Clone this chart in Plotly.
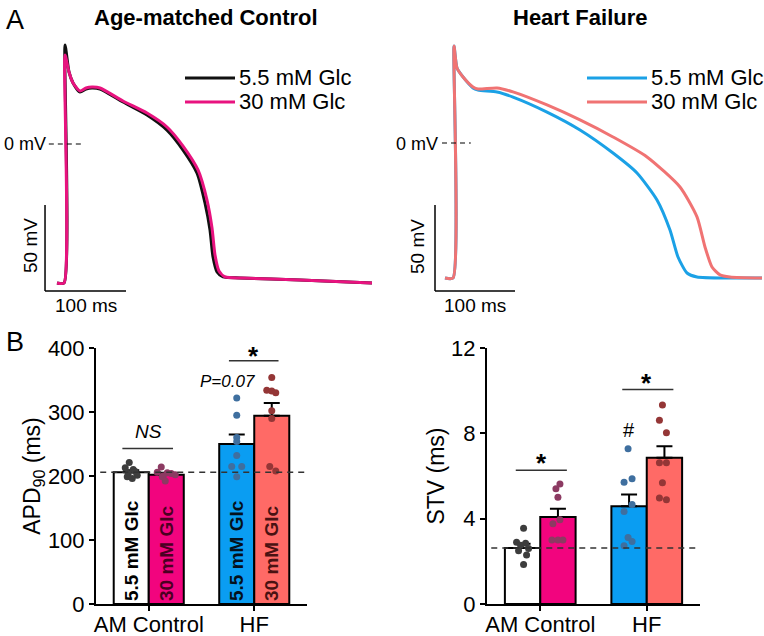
import plotly.graph_objects as go

W, H = 764, 636
FONT = "Liberation Sans, Arial, sans-serif"

# ---------------- Panel A : action potentials (t in ms from upstroke, V in mV)
am_55_t = [-9.9, -1.2, 0, 4.9, 9.9, 18.5, 25.9, 33.3, 43.2, 71.6, 101.2, 125.9, 145.7, 163.0, 172.8, 179.0, 182.7, 187.7, 195.1, 216.0, 290.1, 379.0]
am_55_v = [-80.8, -80.8, 57.6, 41.9, 35.5, 30.2, 32.0, 32.6, 32.0, 24.4, 16.9, 8.1, -3.5, -16.9, -34.3, -50.0, -65.7, -74.4, -77.3, -77.9, -79.1, -80.8]
am_30_t = [-9.9, -1.2, 0, 4.9, 9.9, 18.5, 25.9, 33.3, 43.2, 71.6, 101.2, 125.9, 145.7, 164.2, 175.3, 181.5, 185.2, 190.1, 197.5, 218.5, 290.1, 379.0]
am_30_v = [-80.8, -80.8, 51.7, 41.9, 35.5, 30.8, 32.6, 33.1, 32.6, 25.0, 18.0, 9.9, -1.2, -15.1, -32.6, -48.8, -64.5, -73.8, -77.3, -77.9, -79.1, -80.8]
hf_55_t = [-11.25, -1.25, 0, 3.75, 11.25, 23.75, 30, 53.75, 73.75, 116.25, 157.5, 198.75, 228.75, 253.75, 270, 280, 291.25, 303.75, 345, 385]
hf_55_v = [-78.5, -78.5, 56.4, 43.6, 38.4, 32.0, 30.8, 29.7, 26.7, 18.0, 7.6, -5.8, -17.4, -33.1, -50.6, -66.3, -75.6, -77.9, -78.5, -78.5]
hf_30_t = [-11.25, -1.25, 0, 3.75, 11.25, 23.75, 30, 53.75, 73.75, 116.25, 157.5, 198.75, 241.25, 282.5, 303.75, 313.75, 322.5, 332.5, 345, 385]
hf_30_v = [-78.5, -78.5, 56.4, 43.6, 38.4, 32.6, 31.4, 32.0, 29.7, 22.1, 13.4, 3.5, -8.1, -25.6, -43.0, -60.5, -72.1, -76.7, -77.9, -78.5]

scale_ms = 100
scale_mv = 50
panel_titles = ["Age-matched Control", "Heart Failure"]

# ---------------- Panel B : APD90 and STV
groups = ["AM Control", "HF"]
conditions = ["5.5 mM Glc", "30 mM Glc"]

apd_mean_55 = [206, 250]
apd_sem_55 = [3, 15]
apd_mean_30 = [202, 294]
apd_sem_30 = [3, 20]
apd_pts_am_55 = [221, 213, 210, 207, 204, 201, 199, 196]
apd_pts_am_30 = [214, 206, 205, 204, 202, 200, 199, 192]
apd_pts_hf_55 = [322, 295, 260, 254, 232, 215, 215, 199]
apd_pts_hf_30 = [354, 334, 333, 330, 302, 290, 215, 208]

stv_mean_55 = [2.62, 4.58]
stv_sem_55 = [0.2, 0.55]
stv_mean_30 = [4.08, 6.86]
stv_sem_30 = [0.38, 0.53]
stv_pts_am_55 = [3.55, 2.9, 2.85, 2.75, 2.6, 2.5, 2.3, 1.85]
stv_pts_am_30 = [5.63, 5.4, 5.0, 3.95, 3.76, 3.0, 3.0, 3.0]
stv_pts_hf_55 = [7.28, 5.71, 5.87, 4.66, 4.34, 3.12, 2.93, 2.73]
stv_pts_hf_30 = [9.33, 8.61, 8.03, 6.62, 6.62, 5.68, 4.97, 4.89]

# ---------------- styles
c_am55_line, c_am30_line = "#111111", "#E8137F"
c_hf55_line, c_hf30_line = "#1BA1E6", "#F07373"
bar_col_55 = ["#FFFFFF", "#0A9DF2"]
bar_col_30 = ["#F2047E", "#FF6A66"]
txt_col_55 = ["#000000", "#05111c"]
txt_col_30 = ["#4a0022", "#4a1212"]
dot_col = {"am55": "#3d3d3d", "am30": "#8c3a62", "hf55": "#3f6f9f", "hf30": "#943636"}
# horizontal jitter of dots (pixels)
jit_apd = {"am55": [-2, -6, 2, 4, -3, 6, -4, 1], "am30": [-5, -9, 1, 5, 9, -3, -4, -1],
           "hf55": [0, 0, 0, 0, 0, -5, 5, 0], "hf30": [0, -5, 0, 4, 0, 0, -2, 4]}
jit_stv = {"am55": [1, -6, 3, -2, 6, -4, 4, 1], "am30": [2, -2, 0, 2, -5, -6, 0, 5],
           "hf55": [-1, -5, 3, 3, -5, -1, 3, -5], "hf30": [-2, -5, 2, -5, 2, -2, -5, 2]}
BW = 0.332
OFF = BW / 2


def fx(x):
    return x / W


def fy(y):
    return 1 - y / H


fig = go.Figure()

# AP traces
for t, v, c, ax in [(am_55_t, am_55_v, c_am55_line, ("x", "y")), (am_30_t, am_30_v, c_am30_line, ("x", "y")),
                    (hf_55_t, hf_55_v, c_hf55_line, ("x2", "y2")), (hf_30_t, hf_30_v, c_hf30_line, ("x2", "y2"))]:
    fig.add_trace(go.Scatter(x=t, y=v, mode="lines", line=dict(color=c, width=3, shape="spline", smoothing=0.6),
                             xaxis=ax[0], yaxis=ax[1], showlegend=False, hoverinfo="skip"))


def add_bars(xa, ya, m55, s55, m30, s30, with_text):
    xs55 = [i - OFF for i in range(len(groups))]
    xs30 = [i + OFF for i in range(len(groups))]
    for xs, m, s, cols, lab, tcol in [(xs55, m55, s55, bar_col_55, conditions[0], txt_col_55),
                                      (xs30, m30, s30, bar_col_30, conditions[1], txt_col_30)]:
        kw = {}
        if with_text:
            kw = dict(text=[lab] * len(m), textposition="inside", insidetextanchor="start", textangle=-90,
                      constraintext="none",
                      insidetextfont=dict(family=FONT, size=19, color=tcol, weight="bold"))
        fig.add_trace(go.Bar(
            x=xs, y=m, width=BW, marker=dict(color=cols, line=dict(color="black", width=2)),
            error_y=dict(type="data", array=s, arrayminus=[0] * len(s), symmetric=False,
                         color="black", thickness=2, width=8),
            xaxis=xa, yaxis=ya, showlegend=False, hoverinfo="skip", **kw))


def add_dots(xa, ya, pts, jit, key, xc, catpx):
    fig.add_trace(go.Scatter(
        x=[xc + j / catpx for j in jit[key]], y=pts, mode="markers",
        marker=dict(size=7, color=dot_col[key]), xaxis=xa, yaxis=ya,
        showlegend=False, hoverinfo="skip", cliponaxis=False))


add_bars("x3", "y3", apd_mean_55, apd_sem_55, apd_mean_30, apd_sem_30, True)
add_bars("x4", "y4", stv_mean_55, stv_sem_55, stv_mean_30, stv_sem_30, False)

cat_apd = (307 - 96) / 2
cat_stv = (700 - 487) / 2
for pts, key, xc in [(apd_pts_am_55, "am55", -OFF), (apd_pts_am_30, "am30", OFF),
                     (apd_pts_hf_55, "hf55", 1 - OFF), (apd_pts_hf_30, "hf30", 1 + OFF)]:
    add_dots("x3", "y3", pts, jit_apd, key, xc, cat_apd)
for pts, key, xc in [(stv_pts_am_55, "am55", -OFF), (stv_pts_am_30, "am30", OFF),
                     (stv_pts_hf_55, "hf55", 1 - OFF), (stv_pts_hf_30, "hf30", 1 + OFF)]:
    add_dots("x4", "y4", pts, jit_stv, key, xc, cat_stv)

shapes = []
ann = []

# zero-mV lines and scale bars
for xr, yr, z0, z1, sx, sy in [("x", "y", -20, 21, -24.7, -85.5), ("x2", "y2", -15, 21, -23.75, -86)]:
    shapes.append(dict(type="line", xref=xr, yref=yr, x0=z0, x1=z1, y0=0, y1=0,
                       line=dict(color="black", width=1.2, dash="5px,4px")))
    shapes.append(dict(type="line", xref=xr, yref=yr, x0=sx, x1=sx, y0=sy, y1=sy + scale_mv,
                       line=dict(color="black", width=1.5)))
    shapes.append(dict(type="line", xref=xr, yref=yr, x0=sx, x1=sx + scale_ms, y0=sy, y1=sy,
                       line=dict(color="black", width=1.5)))

# legends of panel A
for x0, x1, tx, cols in [(185, 235, 237, [c_am55_line, c_am30_line]), (587, 647, 649, [c_hf55_line, c_hf30_line])]:
    for k, yy in enumerate([78, 102]):
        shapes.append(dict(type="line", xref="paper", yref="paper", x0=fx(x0), x1=fx(x1), y0=fy(yy), y1=fy(yy),
                           line=dict(color=cols[k], width=3)))
        ann.append(dict(x=fx(tx), y=fy(yy), xref="paper", yref="paper", text=conditions[k], showarrow=False,
                        xanchor="left", yanchor="middle", font=dict(size=22)))

# reference dashed lines
shapes.append(dict(type="line", xref="x3 domain", yref="y3", x0=0.02, x1=1, y0=apd_mean_55[0], y1=apd_mean_55[0],
                   line=dict(color="#333333", width=1.5, dash="6px,5px")))
shapes.append(dict(type="line", xref="x4 domain", yref="y4", x0=0.02, x1=1, y0=stv_mean_55[0], y1=stv_mean_55[0],
                   line=dict(color="#333333", width=1.5, dash="6px,5px")))

# significance lines
for xr, yr, a, b, yy in [("x3", "y3", -0.25, 0.23, 243), ("x3", "y3", 0.76, 1.23, 380),
                         ("x4", "y4", -0.23, 0.25, 6.27), ("x4", "y4", 0.77, 1.25, 10.05)]:
    shapes.append(dict(type="line", xref=xr, yref=yr, x0=a, x1=b, y0=yy, y1=yy,
                       line=dict(color="#333333", width=1.5)))

ann += [
    dict(x=fx(4), y=fy(20), text="A", font=dict(size=27)),
    dict(x=fx(4), y=fy(342), text="B", font=dict(size=27)),
]
for a in ann[-2:]:
    a.update(xref="paper", yref="paper", showarrow=False, xanchor="left", yanchor="middle")

for txt, x in zip(panel_titles, [206, 580]):
    ann.append(dict(x=fx(x), y=fy(17), xref="paper", yref="paper", text="<b>%s</b>" % txt, showarrow=False,
                    font=dict(size=22), xanchor="center", yanchor="middle"))

for zx, sbx, sby, smx in [(48, 30, 246, 86), (440, 418, 247, 475)]:
    ann.append(dict(x=fx(zx), y=fy(144), xref="paper", yref="paper", text="0 mV", showarrow=False,
                    xanchor="right", yanchor="middle", font=dict(size=18)))
    ann.append(dict(x=fx(sbx), y=fy(sby), xref="paper", yref="paper", text="%d mV" % scale_mv, showarrow=False,
                    textangle=-90, xanchor="center", yanchor="middle", font=dict(size=19)))
    ann.append(dict(x=fx(smx), y=fy(305), xref="paper", yref="paper", text="%d ms" % scale_ms, showarrow=False,
                    xanchor="center", yanchor="middle", font=dict(size=19)))

# significance labels
ann += [
    dict(x=0, y=269, xref="x3", yref="y3", text="<i>NS</i>", font=dict(size=19)),
    dict(x=0.99, y=387, xref="x3", yref="y3", text="<b>*</b>", font=dict(size=26)),
    dict(x=0.742, y=347, xref="x3", yref="y3", text="<i>P=0.07</i>", font=dict(size=17)),
    dict(x=0.01, y=6.59, xref="x4", yref="y4", text="<b>*</b>", font=dict(size=26)),
    dict(x=1.0, y=10.35, xref="x4", yref="y4", text="<b>*</b>", font=dict(size=26)),
    dict(x=0.833, y=8.14, xref="x4", yref="y4", text="#", font=dict(size=20)),
]
for a in ann[-6:]:
    a.update(showarrow=False, xanchor="center", yanchor="middle")

axis_common = dict(showline=True, linecolor="black", linewidth=2, ticks="outside", ticklen=5, tickwidth=2,
                   tickcolor="black", showgrid=False, zeroline=False, tickfont=dict(size=22, color="black"),
                   fixedrange=True, automargin=False)

fig.update_layout(
    width=W, height=H, margin=dict(l=0, r=0, t=0, b=0, pad=0, autoexpand=False),
    paper_bgcolor="white", plot_bgcolor="white",
    font=dict(family=FONT, color="black"),
    showlegend=False, barmode="overlay",
    xaxis=dict(domain=[fx(40), fx(380)], range=[-30.9, 388.9], visible=False, fixedrange=True, automargin=False),
    yaxis=dict(domain=[fy(300), fy(30)], range=[-90.7, 66.3], visible=False, fixedrange=True, automargin=False),
    xaxis2=dict(domain=[fx(430), fx(764)], range=[-30, 387.5], visible=False, anchor="y2", fixedrange=True,
                automargin=False),
    yaxis2=dict(domain=[fy(300), fy(30)], range=[-91.3, 65.7], visible=False, anchor="x2", fixedrange=True,
                automargin=False),
    xaxis3=dict(domain=[fx(96), fx(307)], range=[-0.5, 1.5], anchor="y3", tickvals=[0, 1], ticktext=groups,
                ticklabelstandoff=-5, **axis_common),
    yaxis3=dict(domain=[fy(604), fy(348)], range=[0, 400], anchor="x3", tickvals=[0, 100, 200, 300, 400],
                title=dict(text="APD<sub>90</sub> (ms)", font=dict(size=23), standoff=1), **axis_common),
    xaxis4=dict(domain=[fx(487), fx(700)], range=[-0.5, 1.5], anchor="y4", tickvals=[0, 1], ticktext=groups,
                ticklabelstandoff=-5, **axis_common),
    yaxis4=dict(domain=[fy(604), fy(348)], range=[0, 12], anchor="x4", tickvals=[0, 4, 8, 12],
                title=dict(text="STV (ms)", font=dict(size=23), standoff=0), **axis_common),
    shapes=shapes, annotations=ann,
)

fig.write_html("out.html", config={"displayModeBar": False, "staticPlot": True},
               post_script="document.body.style.margin='0';document.body.style.overflow='hidden';")
